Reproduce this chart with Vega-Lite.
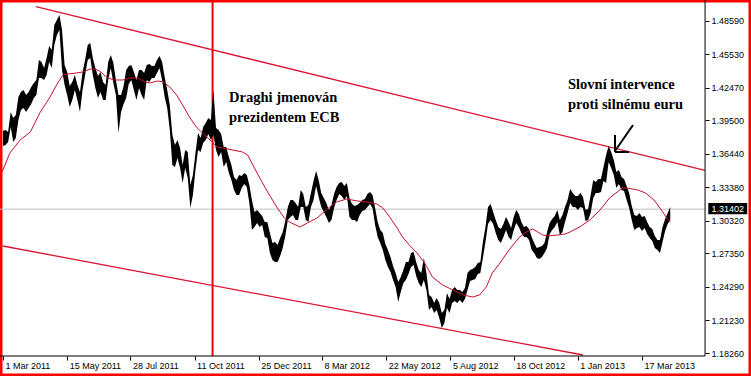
{
"$schema": "https://vega.github.io/schema/vega-lite/v6.json",
"width": 751, "height": 376, "padding": 0, "autosize": {"type": "none"},
"background": "#ffffff",
"config": {"view": {"stroke": "#ff0000", "strokeWidth": 5, "fill": "#ffffff"}},
"resolve": {"axis": {"x": "independent", "y": "independent"}},
"datasets": {
"price": [
{"t":"2011-03-01","hi":1.3854,"lo":1.3717},{"t":"2011-03-04","hi":1.3863,"lo":1.3726},{"t":"2011-03-07","hi":1.3845,"lo":1.3754},{"t":"2011-03-10","hi":1.4028,"lo":1.3891},{"t":"2011-03-13","hi":1.3973,"lo":1.3754},{"t":"2011-03-16","hi":1.4000,"lo":1.3790},{"t":"2011-03-19","hi":1.4165,"lo":1.3955},{"t":"2011-03-22","hi":1.4211,"lo":1.4046},{"t":"2011-03-25","hi":1.4229,"lo":1.4064},{"t":"2011-03-28","hi":1.4183,"lo":1.4028},
{"t":"2011-03-31","hi":1.4211,"lo":1.4064},{"t":"2011-04-03","hi":1.4256,"lo":1.4100},{"t":"2011-04-06","hi":1.4293,"lo":1.4156},{"t":"2011-04-09","hi":1.4320,"lo":1.4183},{"t":"2011-04-12","hi":1.4503,"lo":1.4338},{"t":"2011-04-15","hi":1.4485,"lo":1.4338},{"t":"2011-04-18","hi":1.4430,"lo":1.4320},{"t":"2011-04-21","hi":1.4521,"lo":1.4365},{"t":"2011-04-24","hi":1.4630,"lo":1.4485},{"t":"2011-04-27","hi":1.4594,"lo":1.4430},
{"t":"2011-04-30","hi":1.4822,"lo":1.4639},{"t":"2011-05-03","hi":1.4868,"lo":1.4731},{"t":"2011-05-06","hi":1.4913,"lo":1.4777},{"t":"2011-05-09","hi":1.4777,"lo":1.4411},{"t":"2011-05-12","hi":1.4457,"lo":1.4274},{"t":"2011-05-15","hi":1.4393,"lo":1.4183},{"t":"2011-05-18","hi":1.4265,"lo":1.4073},{"t":"2011-05-21","hi":1.4302,"lo":1.4137},{"t":"2011-05-24","hi":1.4365,"lo":1.4229},{"t":"2011-05-27","hi":1.4274,"lo":1.4137},
{"t":"2011-05-30","hi":1.4211,"lo":1.4028},{"t":"2011-06-02","hi":1.4393,"lo":1.4229},{"t":"2011-06-05","hi":1.4503,"lo":1.4365},{"t":"2011-06-08","hi":1.4639,"lo":1.4503},{"t":"2011-06-11","hi":1.4658,"lo":1.4521},{"t":"2011-06-14","hi":1.4521,"lo":1.4365},{"t":"2011-06-17","hi":1.4430,"lo":1.4247},{"t":"2011-06-20","hi":1.4356,"lo":1.4156},{"t":"2011-06-23","hi":1.4393,"lo":1.4211},{"t":"2011-06-26","hi":1.4302,"lo":1.4137},
{"t":"2011-06-29","hi":1.4274,"lo":1.4137},{"t":"2011-07-02","hi":1.4485,"lo":1.4320},{"t":"2011-07-05","hi":1.4548,"lo":1.4430},{"t":"2011-07-08","hi":1.4476,"lo":1.4293},{"t":"2011-07-11","hi":1.4320,"lo":1.4183},{"t":"2011-07-14","hi":1.4183,"lo":1.3836},{"t":"2011-07-17","hi":1.4183,"lo":1.4028},{"t":"2011-07-20","hi":1.4265,"lo":1.4100},{"t":"2011-07-23","hi":1.4411,"lo":1.4156},{"t":"2011-07-26","hi":1.4448,"lo":1.4283},
{"t":"2011-07-29","hi":1.4457,"lo":1.4320},{"t":"2011-08-01","hi":1.4393,"lo":1.4229},{"t":"2011-08-04","hi":1.4320,"lo":1.4137},{"t":"2011-08-07","hi":1.4411,"lo":1.4247},{"t":"2011-08-10","hi":1.4411,"lo":1.4183},{"t":"2011-08-13","hi":1.4384,"lo":1.4137},{"t":"2011-08-16","hi":1.4457,"lo":1.4320},{"t":"2011-08-19","hi":1.4466,"lo":1.4302},{"t":"2011-08-22","hi":1.4448,"lo":1.4338},{"t":"2011-08-25","hi":1.4448,"lo":1.4338},
{"t":"2011-08-28","hi":1.4503,"lo":1.4384},{"t":"2011-08-31","hi":1.4539,"lo":1.4430},{"t":"2011-09-03","hi":1.4485,"lo":1.4320},{"t":"2011-09-06","hi":1.4347,"lo":1.4165},{"t":"2011-09-09","hi":1.4229,"lo":1.4064},{"t":"2011-09-12","hi":1.4091,"lo":1.3863},{"t":"2011-09-15","hi":1.3817,"lo":1.3543},{"t":"2011-09-18","hi":1.3726,"lo":1.3525},{"t":"2011-09-21","hi":1.3772,"lo":1.3607},{"t":"2011-09-24","hi":1.3699,"lo":1.3516},
{"t":"2011-09-27","hi":1.3543,"lo":1.3379},{"t":"2011-09-30","hi":1.3680,"lo":1.3516},{"t":"2011-10-03","hi":1.3662,"lo":1.3425},{"t":"2011-10-06","hi":1.3360,"lo":1.3151},{"t":"2011-10-09","hi":1.3452,"lo":1.3269},{"t":"2011-10-12","hi":1.3653,"lo":1.3498},{"t":"2011-10-15","hi":1.3836,"lo":1.3680},{"t":"2011-10-18","hi":1.3790,"lo":1.3662},{"t":"2011-10-21","hi":1.3891,"lo":1.3745},{"t":"2011-10-24","hi":1.3928,"lo":1.3772},
{"t":"2011-10-27","hi":1.3973,"lo":1.3826},{"t":"2011-10-30","hi":1.3955,"lo":1.3772},{"t":"2011-11-02","hi":1.4229,"lo":1.3817},{"t":"2011-11-05","hi":1.3882,"lo":1.3680},{"t":"2011-11-08","hi":1.3863,"lo":1.3616},{"t":"2011-11-11","hi":1.3826,"lo":1.3662},{"t":"2011-11-14","hi":1.3708,"lo":1.3525},{"t":"2011-11-17","hi":1.3708,"lo":1.3571},{"t":"2011-11-20","hi":1.3616,"lo":1.3471},{"t":"2011-11-23","hi":1.3543,"lo":1.3406},
{"t":"2011-11-26","hi":1.3434,"lo":1.3315},{"t":"2011-11-29","hi":1.3406,"lo":1.3269},{"t":"2011-12-02","hi":1.3452,"lo":1.3269},{"t":"2011-12-05","hi":1.3443,"lo":1.3333},{"t":"2011-12-08","hi":1.3471,"lo":1.3369},{"t":"2011-12-11","hi":1.3452,"lo":1.3342},{"t":"2011-12-14","hi":1.3360,"lo":1.3197},{"t":"2011-12-17","hi":1.3224,"lo":1.2950},{"t":"2011-12-20","hi":1.3114,"lo":1.2977},{"t":"2011-12-23","hi":1.3132,"lo":1.3014},
{"t":"2011-12-26","hi":1.3105,"lo":1.2977},{"t":"2011-12-29","hi":1.3078,"lo":1.2995},{"t":"2012-01-01","hi":1.3023,"lo":1.2886},{"t":"2012-01-04","hi":1.3023,"lo":1.2877},{"t":"2012-01-07","hi":1.2923,"lo":1.2740},{"t":"2012-01-10","hi":1.2831,"lo":1.2676},{"t":"2012-01-13","hi":1.2840,"lo":1.2658},{"t":"2012-01-16","hi":1.2812,"lo":1.2658},{"t":"2012-01-19","hi":1.2877,"lo":1.2712},{"t":"2012-01-22","hi":1.2932,"lo":1.2785},
{"t":"2012-01-25","hi":1.3032,"lo":1.2895},{"t":"2012-01-28","hi":1.3160,"lo":1.3041},{"t":"2012-01-31","hi":1.3224,"lo":1.3068},{"t":"2012-02-03","hi":1.3224,"lo":1.3086},{"t":"2012-02-06","hi":1.3197,"lo":1.3041},{"t":"2012-02-09","hi":1.3160,"lo":1.3041},{"t":"2012-02-12","hi":1.3315,"lo":1.3160},{"t":"2012-02-15","hi":1.3278,"lo":1.3160},{"t":"2012-02-18","hi":1.3160,"lo":1.3041},{"t":"2012-02-21","hi":1.3178,"lo":1.3023},
{"t":"2012-02-24","hi":1.3288,"lo":1.3160},{"t":"2012-02-27","hi":1.3397,"lo":1.3224},{"t":"2012-03-01","hi":1.3489,"lo":1.3351},{"t":"2012-03-04","hi":1.3406,"lo":1.3251},{"t":"2012-03-07","hi":1.3288,"lo":1.3160},{"t":"2012-03-10","hi":1.3242,"lo":1.3114},{"t":"2012-03-13","hi":1.3197,"lo":1.3068},{"t":"2012-03-16","hi":1.3132,"lo":1.3014},{"t":"2012-03-19","hi":1.3178,"lo":1.3041},{"t":"2012-03-22","hi":1.3278,"lo":1.3151},
{"t":"2012-03-25","hi":1.3342,"lo":1.3224},{"t":"2012-03-28","hi":1.3379,"lo":1.3278},{"t":"2012-03-31","hi":1.3388,"lo":1.3260},{"t":"2012-04-03","hi":1.3351,"lo":1.3224},{"t":"2012-04-06","hi":1.3379,"lo":1.3260},{"t":"2012-04-09","hi":1.3242,"lo":1.3068},{"t":"2012-04-12","hi":1.3187,"lo":1.3041},{"t":"2012-04-15","hi":1.3169,"lo":1.3041},{"t":"2012-04-18","hi":1.3178,"lo":1.3023},{"t":"2012-04-21","hi":1.3197,"lo":1.3086},
{"t":"2012-04-24","hi":1.3224,"lo":1.3123},{"t":"2012-04-27","hi":1.3233,"lo":1.3132},{"t":"2012-04-30","hi":1.3278,"lo":1.3160},{"t":"2012-05-03","hi":1.3297,"lo":1.3187},{"t":"2012-05-06","hi":1.3269,"lo":1.3151},{"t":"2012-05-09","hi":1.3151,"lo":1.2995},{"t":"2012-05-12","hi":1.3023,"lo":1.2886},{"t":"2012-05-15","hi":1.2950,"lo":1.2831},{"t":"2012-05-18","hi":1.2923,"lo":1.2767},{"t":"2012-05-21","hi":1.2822,"lo":1.2676},
{"t":"2012-05-24","hi":1.2767,"lo":1.2612},{"t":"2012-05-27","hi":1.2703,"lo":1.2566},{"t":"2012-05-30","hi":1.2621,"lo":1.2493},{"t":"2012-06-02","hi":1.2557,"lo":1.2429},{"t":"2012-06-05","hi":1.2475,"lo":1.2292},{"t":"2012-06-08","hi":1.2520,"lo":1.2384},{"t":"2012-06-11","hi":1.2584,"lo":1.2466},{"t":"2012-06-14","hi":1.2658,"lo":1.2493},{"t":"2012-06-17","hi":1.2658,"lo":1.2547},{"t":"2012-06-20","hi":1.2740,"lo":1.2612},
{"t":"2012-06-23","hi":1.2749,"lo":1.2630},{"t":"2012-06-26","hi":1.2658,"lo":1.2529},{"t":"2012-06-29","hi":1.2584,"lo":1.2466},{"t":"2012-07-02","hi":1.2557,"lo":1.2429},{"t":"2012-07-05","hi":1.2694,"lo":1.2493},{"t":"2012-07-08","hi":1.2557,"lo":1.2402},{"t":"2012-07-11","hi":1.2356,"lo":1.2219},{"t":"2012-07-14","hi":1.2338,"lo":1.2247},{"t":"2012-07-17","hi":1.2283,"lo":1.2192},{"t":"2012-07-20","hi":1.2329,"lo":1.2219},
{"t":"2012-07-23","hi":1.2283,"lo":1.2146},{"t":"2012-07-26","hi":1.2192,"lo":1.2054},{"t":"2012-07-29","hi":1.2219,"lo":1.2100},{"t":"2012-08-01","hi":1.2374,"lo":1.2237},{"t":"2012-08-04","hi":1.2320,"lo":1.2192},{"t":"2012-08-07","hi":1.2402,"lo":1.2283},{"t":"2012-08-10","hi":1.2429,"lo":1.2301},{"t":"2012-08-13","hi":1.2402,"lo":1.2283},{"t":"2012-08-16","hi":1.2402,"lo":1.2310},{"t":"2012-08-19","hi":1.2384,"lo":1.2283},
{"t":"2012-08-22","hi":1.2420,"lo":1.2320},{"t":"2012-08-25","hi":1.2557,"lo":1.2402},{"t":"2012-08-28","hi":1.2584,"lo":1.2484},{"t":"2012-08-31","hi":1.2594,"lo":1.2493},{"t":"2012-09-03","hi":1.2612,"lo":1.2502},{"t":"2012-09-06","hi":1.2648,"lo":1.2547},{"t":"2012-09-09","hi":1.2658,"lo":1.2557},{"t":"2012-09-12","hi":1.2840,"lo":1.2694},{"t":"2012-09-15","hi":1.2977,"lo":1.2840},{"t":"2012-09-18","hi":1.3160,"lo":1.3004},
{"t":"2012-09-21","hi":1.3187,"lo":1.3041},{"t":"2012-09-24","hi":1.3114,"lo":1.3004},{"t":"2012-09-27","hi":1.3041,"lo":1.2923},{"t":"2012-09-30","hi":1.2977,"lo":1.2858},{"t":"2012-10-03","hi":1.2959,"lo":1.2831},{"t":"2012-10-06","hi":1.3004,"lo":1.2886},{"t":"2012-10-09","hi":1.3068,"lo":1.2950},{"t":"2012-10-12","hi":1.3023,"lo":1.2886},{"t":"2012-10-15","hi":1.2968,"lo":1.2858},{"t":"2012-10-18","hi":1.3068,"lo":1.2950},
{"t":"2012-10-21","hi":1.3132,"lo":1.3014},{"t":"2012-10-24","hi":1.3096,"lo":1.2977},{"t":"2012-10-27","hi":1.3023,"lo":1.2923},{"t":"2012-10-30","hi":1.2977,"lo":1.2886},{"t":"2012-11-02","hi":1.2986,"lo":1.2886},{"t":"2012-11-05","hi":1.2959,"lo":1.2858},{"t":"2012-11-08","hi":1.2886,"lo":1.2767},{"t":"2012-11-11","hi":1.2831,"lo":1.2740},{"t":"2012-11-14","hi":1.2785,"lo":1.2694},{"t":"2012-11-17","hi":1.2794,"lo":1.2685},
{"t":"2012-11-20","hi":1.2803,"lo":1.2703},{"t":"2012-11-23","hi":1.2831,"lo":1.2740},{"t":"2012-11-26","hi":1.2932,"lo":1.2785},{"t":"2012-11-29","hi":1.3014,"lo":1.2913},{"t":"2012-12-02","hi":1.3050,"lo":1.2950},{"t":"2012-12-05","hi":1.3078,"lo":1.2977},{"t":"2012-12-08","hi":1.3132,"lo":1.3023},{"t":"2012-12-11","hi":1.3041,"lo":1.2904},{"t":"2012-12-14","hi":1.3086,"lo":1.2932},{"t":"2012-12-17","hi":1.3160,"lo":1.3023},
{"t":"2012-12-20","hi":1.3224,"lo":1.3105},{"t":"2012-12-23","hi":1.3324,"lo":1.3197},{"t":"2012-12-26","hi":1.3288,"lo":1.3160},{"t":"2012-12-29","hi":1.3260,"lo":1.3160},{"t":"2013-01-01","hi":1.3260,"lo":1.3132},{"t":"2013-01-04","hi":1.3288,"lo":1.3160},{"t":"2013-01-07","hi":1.3251,"lo":1.3151},{"t":"2013-01-10","hi":1.3132,"lo":1.3032},{"t":"2013-01-13","hi":1.3141,"lo":1.3041},{"t":"2013-01-16","hi":1.3269,"lo":1.3105},
{"t":"2013-01-19","hi":1.3406,"lo":1.3242},{"t":"2013-01-22","hi":1.3388,"lo":1.3288},{"t":"2013-01-25","hi":1.3415,"lo":1.3288},{"t":"2013-01-28","hi":1.3415,"lo":1.3297},{"t":"2013-01-31","hi":1.3525,"lo":1.3397},{"t":"2013-02-03","hi":1.3635,"lo":1.3379},{"t":"2013-02-06","hi":1.3717,"lo":1.3571},{"t":"2013-02-09","hi":1.3662,"lo":1.3516},{"t":"2013-02-12","hi":1.3589,"lo":1.3452},{"t":"2013-02-15","hi":1.3479,"lo":1.3333},
{"t":"2013-02-18","hi":1.3498,"lo":1.3369},{"t":"2013-02-21","hi":1.3434,"lo":1.3315},{"t":"2013-02-24","hi":1.3415,"lo":1.3306},{"t":"2013-02-27","hi":1.3351,"lo":1.3224},{"t":"2013-03-02","hi":1.3288,"lo":1.3151},{"t":"2013-03-05","hi":1.3169,"lo":1.3041},{"t":"2013-03-08","hi":1.3086,"lo":1.2950},{"t":"2013-03-11","hi":1.3078,"lo":1.2968},{"t":"2013-03-14","hi":1.3105,"lo":1.2977},{"t":"2013-03-17","hi":1.3068,"lo":1.2941},
{"t":"2013-03-20","hi":1.3078,"lo":1.2968},{"t":"2013-03-23","hi":1.3023,"lo":1.2913},{"t":"2013-03-26","hi":1.2977,"lo":1.2877},{"t":"2013-03-29","hi":1.2959,"lo":1.2849},{"t":"2013-04-01","hi":1.2895,"lo":1.2785},{"t":"2013-04-04","hi":1.2858,"lo":1.2767},{"t":"2013-04-07","hi":1.2858,"lo":1.2740},{"t":"2013-04-10","hi":1.2977,"lo":1.2840},{"t":"2013-04-13","hi":1.3050,"lo":1.2941},{"t":"2013-04-16","hi":1.3105,"lo":1.3004},
{"t":"2013-04-19","hi":1.3160,"lo":1.3041}
],
"ma": [
{"t":"2011-02-28","v":1.3480},{"t":"2011-03-09","v":1.3653},{"t":"2011-03-21","v":1.3772},{"t":"2011-04-02","v":1.3845},{"t":"2011-04-13","v":1.4019},{"t":"2011-04-25","v":1.4165},{"t":"2011-05-04","v":1.4293},{"t":"2011-05-10","v":1.4365},{"t":"2011-05-15","v":1.4374},{"t":"2011-05-26","v":1.4384},
{"t":"2011-06-02","v":1.4393},{"t":"2011-06-11","v":1.4420},{"t":"2011-06-17","v":1.4420},{"t":"2011-06-22","v":1.4402},{"t":"2011-06-30","v":1.4347},{"t":"2011-07-08","v":1.4320},{"t":"2011-07-19","v":1.4320},{"t":"2011-07-28","v":1.4338},{"t":"2011-08-05","v":1.4338},{"t":"2011-08-14","v":1.4302},
{"t":"2011-08-20","v":1.4293},{"t":"2011-08-29","v":1.4311},{"t":"2011-09-04","v":1.4302},{"t":"2011-09-12","v":1.4256},{"t":"2011-09-20","v":1.4183},{"t":"2011-09-27","v":1.4091},{"t":"2011-10-05","v":1.3982},{"t":"2011-10-13","v":1.3891},{"t":"2011-10-20","v":1.3836},{"t":"2011-10-29","v":1.3772},
{"t":"2011-11-06","v":1.3708},{"t":"2011-11-13","v":1.3699},{"t":"2011-11-25","v":1.3680},{"t":"2011-12-06","v":1.3662},{"t":"2011-12-12","v":1.3635},{"t":"2011-12-23","v":1.3471},{"t":"2012-01-03","v":1.3315},{"t":"2012-01-15","v":1.3160},{"t":"2012-01-24","v":1.3059},{"t":"2012-01-30","v":1.3023},
{"t":"2012-02-11","v":1.2977},{"t":"2012-02-20","v":1.3014},{"t":"2012-03-02","v":1.3059},{"t":"2012-03-09","v":1.3105},{"t":"2012-03-17","v":1.3160},{"t":"2012-03-25","v":1.3206},{"t":"2012-04-06","v":1.3233},{"t":"2012-04-18","v":1.3215},{"t":"2012-04-29","v":1.3206},{"t":"2012-05-11","v":1.3187},
{"t":"2012-05-18","v":1.3151},{"t":"2012-05-26","v":1.3068},{"t":"2012-06-03","v":1.2977},{"t":"2012-06-10","v":1.2886},{"t":"2012-06-18","v":1.2812},{"t":"2012-06-27","v":1.2740},{"t":"2012-07-06","v":1.2648},{"t":"2012-07-15","v":1.2520},{"t":"2012-07-27","v":1.2447},{"t":"2012-08-08","v":1.2402},
{"t":"2012-08-20","v":1.2356},{"t":"2012-08-31","v":1.2338},{"t":"2012-09-08","v":1.2356},{"t":"2012-09-16","v":1.2429},{"t":"2012-09-23","v":1.2557},{"t":"2012-10-02","v":1.2648},{"t":"2012-10-10","v":1.2740},{"t":"2012-10-17","v":1.2812},{"t":"2012-10-25","v":1.2886},{"t":"2012-11-02","v":1.2932},
{"t":"2012-11-09","v":1.2959},{"t":"2012-11-15","v":1.2932},{"t":"2012-11-21","v":1.2904},{"t":"2012-11-27","v":1.2895},{"t":"2012-12-08","v":1.2904},{"t":"2012-12-17","v":1.2913},{"t":"2012-12-23","v":1.2932},{"t":"2013-01-03","v":1.2977},{"t":"2013-01-15","v":1.3041},{"t":"2013-01-27","v":1.3132},
{"t":"2013-02-07","v":1.3242},{"t":"2013-02-16","v":1.3297},{"t":"2013-02-22","v":1.3333},{"t":"2013-02-28","v":1.3333},{"t":"2013-03-12","v":1.3315},{"t":"2013-03-21","v":1.3288},{"t":"2013-03-31","v":1.3224},{"t":"2013-04-07","v":1.3151},{"t":"2013-04-15","v":1.3059},{"t":"2013-04-19","v":1.3023}
],
"channel": [
{"t1":"2011-04-08T14:00","p1":1.49896,"t2":"2013-05-29T17:00","p2":1.34950},
{"t1":"2011-02-28T20:00","p1":1.28035,"t2":"2013-01-07T00:00","p2":1.18077}
],
"frame": [
{"t1":"2013-05-29T17:00","p1":1.50508,"t2":"2013-05-29T17:00","p2":1.17986},
{"t1":"2011-02-25T12:00","p1":1.17986,"t2":"2013-05-29T17:00","p2":1.17986}
],
"last": [{"t1":"2011-02-25T12:00","t2":"2013-05-29T17:00","p":1.31402}],
"event": [{"t":"2011-11-01T00:00","p1":1.50508,"p2":1.17986}],
"arrow": [
{"t1":"2013-03-06T12:00","p1":1.39089,"t2":"2013-02-13T10:00","p2":1.36713},
{"t1":"2013-02-13T10:00","p1":1.38175,"t2":"2013-02-13T10:00","p2":1.36622},
{"t1":"2013-02-13T10:00","p1":1.36622,"t2":"2013-03-01T19:00","p2":1.36622}
],
"notes": [
{"t":"2011-11-20T05:00","p":1.4119,"txt":"Draghi jmenován\nprezidentem ECB"},
{"t":"2012-12-20T12:00","p":1.42332,"txt":"Slovní intervence\nproti silnému euru"}
],
"tag": [{"t1":"2013-06-02T12:00","t2":"2013-07-18T00:00","p1":1.3197,"p2":1.3093,"t":"2013-06-25T06:00","p":1.31455,"label":"1.31402"}]
},
"layer": [
{"data":{"name":"last"},"mark":{"type":"rule","color":"#c0c0c0","strokeWidth":1},
 "encoding":{"x":{"field":"t1","type":"temporal","scale":{"domain":[{"year":2011,"month":2,"date":25,"hours":12},{"year":2013,"month":7,"date":22,"hours":10}],"nice":false},
   "axis":{"orient":"bottom","offset":-20,"title":null,"format":"%-d %b %Y","grid":false,"domain":false,"tickSize":4,"tickColor":"#000000","labelColor":"#000000","labelFont":"Liberation Sans","labelFontSize":9,"labelAlign":"left","labelBaseline":"top","labelPadding":1,"labelOffset":2,"labelOverlap":false,"labelFlush":false,
    "values":[{"year":2011,"month":3,"date":1},{"year":2011,"month":5,"date":15},{"year":2011,"month":7,"date":28},{"year":2011,"month":10,"date":11},{"year":2011,"month":12,"date":25},{"year":2012,"month":3,"date":8},{"year":2012,"month":5,"date":22},{"year":2012,"month":8,"date":5},{"year":2012,"month":10,"date":18},{"year":2013,"month":1,"date":1},{"year":2013,"month":3,"date":17}]}},
 "x2":{"field":"t2"},
 "y":{"field":"p","type":"quantitative","scale":{"domain":[1.16159,1.50508],"zero":false,"nice":false},
   "axis":{"orient":"right","offset":-46,"title":null,"format":".5f","grid":false,"domain":false,"tickSize":4,"tickColor":"#000000","labelColor":"#000000","labelFont":"Liberation Sans","labelFontSize":9,"labelPadding":2,"labelBaseline":"middle","labelOverlap":false,"labelFlush":false,
    "values":[1.4859,1.4553,1.4247,1.395,1.3644,1.3338,1.3032,1.2735,1.2429,1.2123,1.1826]}}}},
{"data":{"name":"channel"},"mark":{"type":"rule","color":"#dc1432","strokeWidth":1.3},
 "encoding":{"x":{"field":"t1","type":"temporal","axis":null,"scale":{"domain":[{"year":2011,"month":2,"date":25,"hours":12},{"year":2013,"month":7,"date":22,"hours":10}],"nice":false}},
 "x2":{"field":"t2"},
 "y":{"field":"p1","type":"quantitative","axis":null,"scale":{"domain":[1.16159,1.50508],"zero":false,"nice":false}},
 "y2":{"field":"p2"}}},
{"data":{"name":"event"},"mark":{"type":"rule","color":"#ee0000","strokeWidth":2},
 "encoding":{"x":{"field":"t","type":"temporal","axis":null,"scale":{"domain":[{"year":2011,"month":2,"date":25,"hours":12},{"year":2013,"month":7,"date":22,"hours":10}],"nice":false}},
 "y":{"field":"p1","type":"quantitative","axis":null,"scale":{"domain":[1.16159,1.50508],"zero":false,"nice":false}},
 "y2":{"field":"p2"}}},
{"data":{"name":"price"},"mark":{"type":"area","color":"#000000","interpolate":"linear"},
 "encoding":{"x":{"field":"t","type":"temporal","axis":null,"scale":{"domain":[{"year":2011,"month":2,"date":25,"hours":12},{"year":2013,"month":7,"date":22,"hours":10}],"nice":false}},
 "y":{"field":"hi","type":"quantitative","axis":null,"scale":{"domain":[1.16159,1.50508],"zero":false,"nice":false}},
 "y2":{"field":"lo"}}},
{"data":{"name":"ma"},"mark":{"type":"line","color":"#c8102e","strokeWidth":1},
 "encoding":{"x":{"field":"t","type":"temporal","axis":null,"scale":{"domain":[{"year":2011,"month":2,"date":25,"hours":12},{"year":2013,"month":7,"date":22,"hours":10}],"nice":false}},
 "y":{"field":"v","type":"quantitative","axis":null,"scale":{"domain":[1.16159,1.50508],"zero":false,"nice":false}}}},
{"data":{"name":"frame"},"mark":{"type":"rule","color":"#000000","strokeWidth":1},
 "encoding":{"x":{"field":"t1","type":"temporal","axis":null,"scale":{"domain":[{"year":2011,"month":2,"date":25,"hours":12},{"year":2013,"month":7,"date":22,"hours":10}],"nice":false}},
 "x2":{"field":"t2"},
 "y":{"field":"p1","type":"quantitative","axis":null,"scale":{"domain":[1.16159,1.50508],"zero":false,"nice":false}},
 "y2":{"field":"p2"}}},
{"data":{"name":"arrow"},"mark":{"type":"rule","color":"#000000","strokeWidth":2},
 "encoding":{"x":{"field":"t1","type":"temporal","axis":null,"scale":{"domain":[{"year":2011,"month":2,"date":25,"hours":12},{"year":2013,"month":7,"date":22,"hours":10}],"nice":false}},
 "x2":{"field":"t2"},
 "y":{"field":"p1","type":"quantitative","axis":null,"scale":{"domain":[1.16159,1.50508],"zero":false,"nice":false}},
 "y2":{"field":"p2"}}},
{"data":{"name":"notes"},"mark":{"type":"text","font":"Liberation Serif","fontWeight":"bold","fontSize":14.5,"align":"left","baseline":"alphabetic","lineBreak":"\n","lineHeight":20,"color":"#000000"},
 "encoding":{"x":{"field":"t","type":"temporal","axis":null,"scale":{"domain":[{"year":2011,"month":2,"date":25,"hours":12},{"year":2013,"month":7,"date":22,"hours":10}],"nice":false}},
 "y":{"field":"p","type":"quantitative","axis":null,"scale":{"domain":[1.16159,1.50508],"zero":false,"nice":false}},
 "text":{"field":"txt","type":"nominal"}}},
{"data":{"name":"tag"},"mark":{"type":"rect","color":"#000000"},
 "encoding":{"x":{"field":"t1","type":"temporal","axis":null,"scale":{"domain":[{"year":2011,"month":2,"date":25,"hours":12},{"year":2013,"month":7,"date":22,"hours":10}],"nice":false}},
 "x2":{"field":"t2"},
 "y":{"field":"p1","type":"quantitative","axis":null,"scale":{"domain":[1.16159,1.50508],"zero":false,"nice":false}},
 "y2":{"field":"p2"}}},
{"data":{"name":"tag"},"mark":{"type":"text","font":"Liberation Sans","fontSize":9,"align":"center","baseline":"middle","color":"#ffffff"},
 "encoding":{"x":{"field":"t","type":"temporal","axis":null,"scale":{"domain":[{"year":2011,"month":2,"date":25,"hours":12},{"year":2013,"month":7,"date":22,"hours":10}],"nice":false}},
 "y":{"field":"p","type":"quantitative","axis":null,"scale":{"domain":[1.16159,1.50508],"zero":false,"nice":false}},
 "text":{"field":"label","type":"nominal"}}}
]
}
